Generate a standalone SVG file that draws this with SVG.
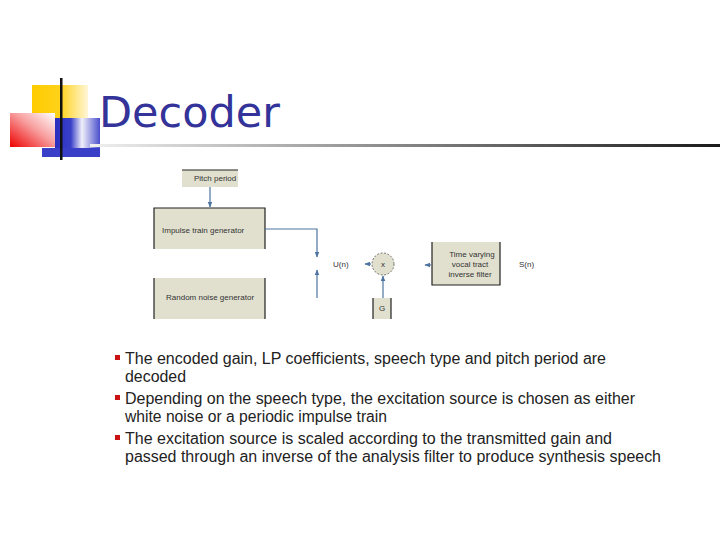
<svg xmlns="http://www.w3.org/2000/svg" width="720" height="540" viewBox="0 0 720 540">
<defs>
<linearGradient id="yel" x1="0" y1="0" x2="1" y2="0"><stop offset="0" stop-color="#ffcc00"/><stop offset="0.5" stop-color="#ffd21a"/><stop offset="1" stop-color="#fff6d8"/></linearGradient>
<linearGradient id="red" x1="0" y1="1" x2="1" y2="0"><stop offset="0" stop-color="#ee0000"/><stop offset="0.55" stop-color="#f8a0a0"/><stop offset="1" stop-color="#ffffff"/></linearGradient>
<linearGradient id="blu" x1="0" y1="0" x2="1" y2="0"><stop offset="0" stop-color="#2a2fc0"/><stop offset="0.35" stop-color="#3a3fc8"/><stop offset="0.6" stop-color="#f0f0fa"/><stop offset="1" stop-color="#4a4fcc"/></linearGradient>
<linearGradient id="rule" x1="0" y1="0" x2="1" y2="0"><stop offset="0" stop-color="#f0f0f0"/><stop offset="1" stop-color="#1a1a1a"/></linearGradient>
<marker id="ah" viewBox="0 0 10 10" refX="9" refY="5" markerWidth="5" markerHeight="5" orient="auto"><path d="M0,1 L10,5 L0,9 z" fill="#4d74a0"/></marker>
</defs>
<style>
.box{fill:#e1e0cf;stroke:none}
.edge{stroke:#222;stroke-width:1.2}
.conn{stroke:#4d74a0;stroke-width:1.2;fill:none}
.lbl{font-family:"Liberation Sans",Arial,sans-serif;font-size:8px;fill:#333}
.bul{font-family:"Liberation Sans",Arial,sans-serif;font-size:16px;fill:#222}
</style>
<rect width="720" height="540" fill="#fff"/>
<g id="logo">
<rect x="32" y="85" width="56" height="33" fill="url(#yel)"/>
<rect x="10" y="113" width="45" height="34" fill="url(#red)"/>
<rect x="55" y="118" width="45" height="30" fill="url(#blu)"/>
<rect x="42" y="148" width="58" height="9" fill="#3a3fc8"/>
<rect x="60" y="78" width="2.5" height="82" fill="#111"/>
</g>
<g id="title"><text x="99" y="127" font-family="DejaVu Sans,Verdana,sans-serif" font-size="43" fill="#333399">Decoder</text></g>
<rect x="90" y="144" width="630" height="3" fill="url(#rule)"/>
<g id="pitch">
<rect class="box" x="182" y="170" width="56" height="17"/>
<line class="edge" x1="182" y1="170" x2="238" y2="170" stroke-width="0.8"/>
<text class="lbl" x="194" y="181">Pitch period</text>
</g>
<g id="impulse">
<rect class="box" x="154" y="208" width="111" height="41"/>
<path class="edge" d="M154,249 V208 H265 V249" fill="none"/>
<text class="lbl" x="162" y="233">Impulse train generator</text>
</g>
<g id="noise">
<rect class="box" x="154" y="278" width="111" height="41"/>
<path class="edge" d="M154,319 V278 M265,278 V319" fill="none"/>
<text class="lbl" x="166" y="300">Random noise generator</text>
</g>
<g id="un"><text class="lbl" x="333" y="267">U(n)</text></g>
<g id="mult">
<circle cx="383" cy="264" r="11" fill="#e1e0cf" stroke="#555" stroke-width="0.8" stroke-dasharray="2,1.5"/>
<text class="lbl" x="383" y="267" text-anchor="middle">x</text>
</g>
<g id="gain">
<rect class="box" x="373" y="298" width="18" height="21"/>
<path class="edge" d="M373,298 V319 M391,298 V319" fill="none"/>
<text class="lbl" x="382" y="311" text-anchor="middle">G</text>
</g>
<g id="filter">
<rect class="box" x="432" y="242" width="68" height="43"/>
<path class="edge" d="M432,242 V285 H500 V242" fill="none"/>
<text class="lbl" x="472" y="257" text-anchor="middle">Time varying</text>
<text class="lbl" x="470" y="267" text-anchor="middle">vocal tract</text>
<text class="lbl" x="470" y="277" text-anchor="middle">inverse filter</text>
</g>
<g id="sn"><text class="lbl" x="519" y="267">S(n)</text></g>
<g id="connectors">
<line class="conn" x1="210" y1="187" x2="210" y2="207" marker-end="url(#ah)"/>
<path class="conn" d="M265,229 H317 V257" marker-end="url(#ah)"/>
<line class="conn" x1="317" y1="298" x2="317" y2="270" marker-end="url(#ah)"/>
<line class="conn" x1="383" y1="298" x2="383" y2="276" marker-end="url(#ah)"/>
<line class="conn" x1="371" y1="264" x2="365" y2="264" marker-end="url(#ah)"/>
<line class="conn" x1="431" y1="265" x2="425" y2="265" marker-end="url(#ah)"/>
</g>
<g id="bullets">
<rect x="115" y="355" width="5" height="5" fill="#cc1111"/>
<rect x="115" y="395" width="5" height="5" fill="#cc1111"/>
<rect x="115" y="435" width="5" height="5" fill="#cc1111"/>
<text class="bul" x="125" y="364" textLength="481" lengthAdjust="spacingAndGlyphs">The encoded gain, LP coefficients, speech type and pitch period are</text>
<text class="bul" x="125" y="382" textLength="61" lengthAdjust="spacingAndGlyphs">decoded</text>
<text class="bul" x="125" y="404" textLength="510" lengthAdjust="spacingAndGlyphs">Depending on the speech type, the excitation source is chosen as either</text>
<text class="bul" x="125" y="422" textLength="262" lengthAdjust="spacingAndGlyphs">white noise or a periodic impulse train</text>
<text class="bul" x="125" y="444" textLength="487" lengthAdjust="spacingAndGlyphs">The excitation source is scaled according to the transmitted gain and</text>
<text class="bul" x="125" y="462" textLength="536" lengthAdjust="spacingAndGlyphs">passed through an inverse of the analysis filter to produce synthesis speech</text>
</g>
</svg>
